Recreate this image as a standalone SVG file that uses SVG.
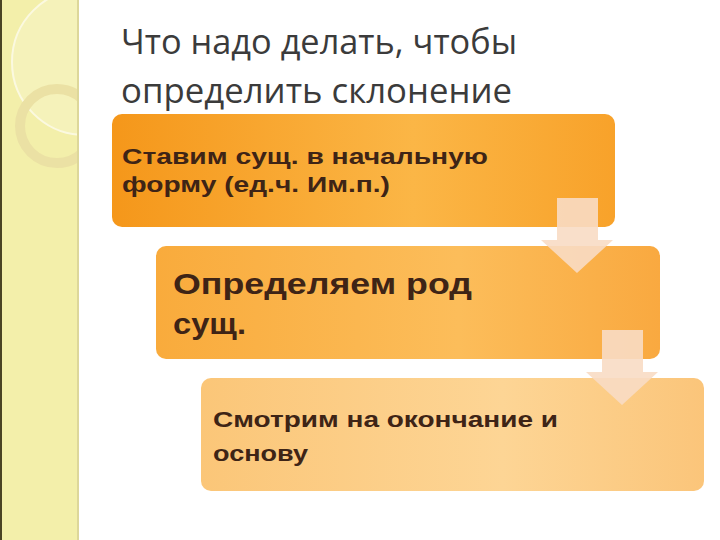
<svg xmlns="http://www.w3.org/2000/svg" width="720" height="540" viewBox="0 0 720 540">
<style>
.title{font-family:"Open Sans","Noto Sans","DejaVu Sans",sans-serif;font-size:34px;fill:#3b3b3b}
.t{font-family:"Liberation Sans",Arial,sans-serif;font-weight:bold;fill:#3e2416}
.arrow{fill:#f8dcc4;fill-opacity:0.9}
</style>
<defs>
<linearGradient id="g1" x1="0" y1="0" x2="1" y2="0">
<stop offset="0" stop-color="#f5971a"/><stop offset="0.6" stop-color="#fbb646"/><stop offset="1" stop-color="#f8a22a"/>
</linearGradient>
<linearGradient id="g2" x1="0" y1="0" x2="1" y2="0">
<stop offset="0" stop-color="#f9ab3c"/><stop offset="0.6" stop-color="#fcbd5a"/><stop offset="1" stop-color="#f9a940"/>
</linearGradient>
<linearGradient id="g3" x1="0" y1="0" x2="1" y2="0">
<stop offset="0" stop-color="#fbc678"/><stop offset="0.6" stop-color="#fdd595"/><stop offset="1" stop-color="#fbc57a"/>
</linearGradient>
<clipPath id="strip"><rect x="0" y="0" width="79" height="540"/></clipPath>
</defs>
<rect width="720" height="540" fill="#ffffff"/>
<g id="sidebar">
<rect x="0" y="0" width="79" height="540" fill="#f3efaa"/>
<g clip-path="url(#strip)">
<circle cx="85" cy="62" r="73" fill="#f6f3c4" fill-opacity="0.6" stroke="#fbf9e0" stroke-width="2"/>
<circle cx="57" cy="126" r="37" fill="none" stroke="#ebe1a4" stroke-width="10"/>
</g>
<rect x="0" y="0" width="2" height="540" fill="#4a4424"/>
<rect x="77" y="0" width="2" height="540" fill="#ddd79a"/>
</g>
<g id="title">
<text class="title" x="121" y="54" textLength="396" lengthAdjust="spacingAndGlyphs">Что надо делать, чтобы</text>
<text class="title" x="121" y="103" textLength="391" lengthAdjust="spacingAndGlyphs">определить склонение</text>
</g>
<g id="step1">
<rect x="112" y="114" width="503" height="113" rx="10" fill="url(#g1)"/>
<text class="t" x="122" y="164" font-size="22" textLength="366" lengthAdjust="spacingAndGlyphs">Ставим сущ. в начальную</text>
<text class="t" x="122" y="192" font-size="22" textLength="268" lengthAdjust="spacingAndGlyphs">форму (ед.ч. Им.п.)</text>
</g>
<g id="step2">
<rect x="156" y="246" width="504" height="113" rx="10" fill="url(#g2)"/>
<text class="t" x="173" y="294" font-size="30" textLength="299" lengthAdjust="spacingAndGlyphs">Определяем род</text>
<text class="t" x="173" y="334" font-size="30" textLength="73" lengthAdjust="spacingAndGlyphs">сущ.</text>
</g>
<g id="step3">
<rect x="201" y="378" width="503" height="113" rx="10" fill="url(#g3)"/>
<text class="t" x="213" y="427" font-size="22" textLength="345" lengthAdjust="spacingAndGlyphs">Смотрим на окончание и</text>
<text class="t" x="213" y="461" font-size="22" textLength="95" lengthAdjust="spacingAndGlyphs">основу</text>
</g>
<g id="connectors">
<polygon class="arrow" points="557,198 598,198 598,240 613,240 577,273 541,240 557,240"/>
<polygon class="arrow" points="602,330 643,330 643,372 658,372 622,405 586,372 602,372"/>
</g>
</svg>
